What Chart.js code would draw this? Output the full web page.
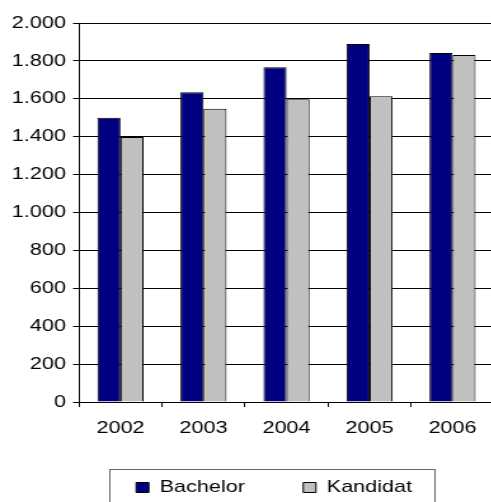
<!DOCTYPE html>
<html>
<head>
<meta charset="utf-8">
<script src="https://cdn.jsdelivr.net/npm/chart.js@4"></script>
<style>
  html, body { margin: 0; padding: 0; background: #fff; overflow: hidden; }
  #wrap { width: 491px; height: 502px; overflow: hidden; }
  /* the original chart is stretched sideways, text included */
  #inner { width: 389px; height: 506px; transform: scaleX(1.27); transform-origin: 0 0; }
</style>
</head>
<body>
<div id="wrap"><div id="inner"><canvas id="bars" width="389" height="506"></canvas></div></div>
<script>
const years = ["2002", "2003", "2004", "2005", "2006"];
const bachelor = [1500, 1634, 1766, 1889, 1842];
const kandidat = [1398, 1548, 1597, 1613, 1831];
const yTicks = [0, 200, 400, 600, 800, 1000, 1200, 1400, 1600, 1800, 2000];

const font = { family: "'Liberation Sans', Arial, sans-serif", size: 17 };
Chart.defaults.color = '#000';

// thousands separator with a dot: 2000 -> 2.000
const fmt = v => String(v).replace(/\B(?=(\d{3})+(?!\d))/g, '.');

// legend sits a bit right of the canvas centre, with a grey frame round it
const legendFrame = {
  id: 'legendFrame',
  afterLayout(chart) {
    chart.legend.left += 21.3;
    chart.legend.right += 21.3;
  },
  afterDraw(chart) {
    const boxes = chart.legend.legendHitBoxes;
    if (!boxes || !boxes.length) return;
    const first = boxes[0], last = boxes[boxes.length - 1];
    const l = Math.round(first.left - 21) + 0.5;
    const r = Math.round(last.left + last.width + 18) + 0.5;
    const t = Math.round(first.top - 10) + 0.5;
    const ctx = chart.ctx;
    ctx.save();
    ctx.strokeStyle = '#666';
    ctx.lineWidth = 1;
    ctx.strokeRect(l, t, r - l, 60);
    ctx.restore();
  }
};

new Chart(document.getElementById('bars'), {
  type: 'bar',
  data: {
    labels: years,
    datasets: [
      {
        label: 'Bachelor',
        data: bachelor,
        backgroundColor: '#000080',
        borderColor: '#000',
        borderWidth: 1,
        categoryPercentage: 0.555,
        barPercentage: 1
      },
      {
        label: 'Kandidat',
        data: kandidat,
        backgroundColor: '#c0c0c0',
        borderColor: '#000',
        borderWidth: 1,
        categoryPercentage: 0.555,
        barPercentage: 1
      }
    ]
  },
  options: {
    responsive: false,
    animation: false,
    devicePixelRatio: 1,
    layout: { padding: { left: 0, right: 0, top: 23, bottom: 0 } },
    plugins: {
      tooltip: { enabled: false },
      legend: {
        position: 'bottom',
        labels: { font: font, boxWidth: 10, boxHeight: 10, padding: 46 }
      }
    },
    scales: {
      x: {
        grid: { offset: true, drawOnChartArea: false, tickLength: 5, color: '#000' },
        border: { color: '#000' },
        ticks: { font: font, padding: 11 },
        afterFit: s => { s.height = 31; }
      },
      y: {
        min: yTicks[0],
        max: yTicks[yTicks.length - 1],
        afterBuildTicks: s => { s.ticks = yTicks.map(v => ({ value: v })); },
        grid: { color: '#000', tickLength: 4.7 },
        border: { color: '#000' },
        ticks: { font: font, padding: 5.6, callback: v => fmt(v) },
        afterFit: s => { s.width = 62.2; }
      }
    }
  },
  plugins: [legendFrame]
});
</script>
</body>
</html>
